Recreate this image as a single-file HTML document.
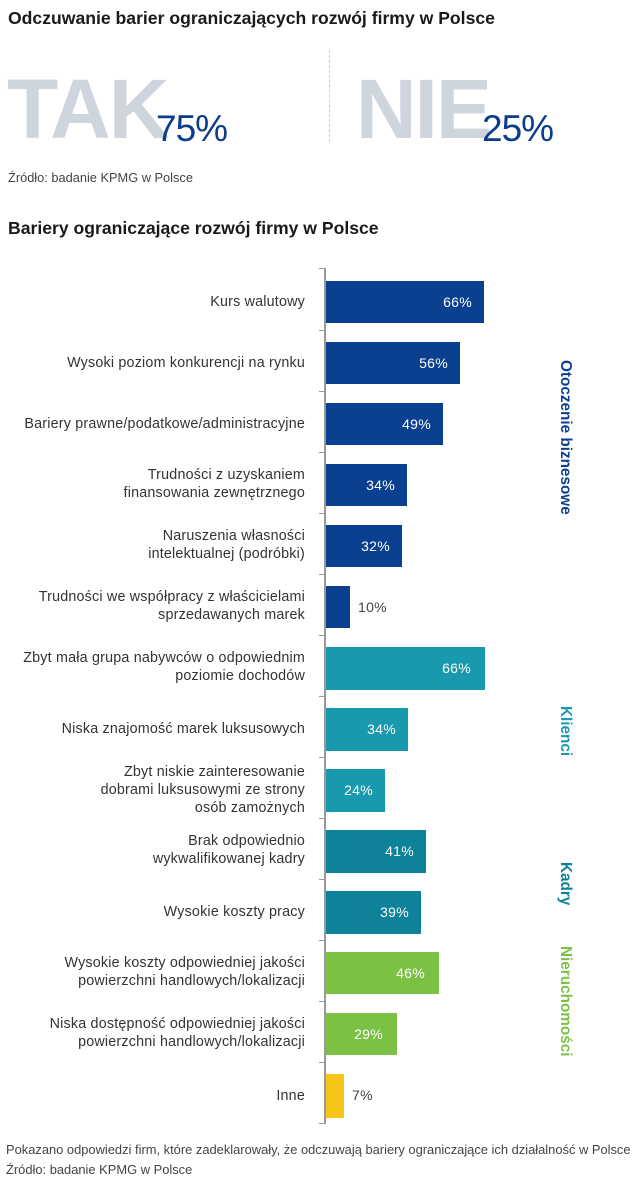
<!DOCTYPE html>
<html><head><meta charset="utf-8"><style>
body{margin:0;width:640px;height:1187px;background:#fff;font-family:"Liberation Sans",sans-serif;position:relative;overflow:hidden;color:#333}
.a{position:absolute;white-space:nowrap}
.h{font-weight:bold;font-size:17.6px;color:#1a1a1a}
.big{font-weight:bold;font-size:84px;color:#cfd5dc;letter-spacing:-2px;line-height:1}
.pct{font-size:37px;color:#0b3c8e;line-height:1;letter-spacing:-1px}
.lbl{position:absolute;right:335px;text-align:right;font-size:14.3px;line-height:18px;color:#333;letter-spacing:0.2px}
.bar{position:absolute;left:326px;height:42px}
.v{position:absolute;font-size:14px;color:#fff;line-height:42px;letter-spacing:0.3px}
.g{position:absolute;font-weight:bold;font-size:15.3px;writing-mode:vertical-rl;white-space:nowrap}
</style></head><body>
<div class="a h" style="left:8px;top:8px">Odczuwanie barier ograniczających rozwój firmy w Polsce</div>
<div class="a big" style="left:7px;top:67px">TAK</div>
<div class="a pct" style="left:156px;top:110px">75%</div>
<div class="a" style="left:329px;top:50px;height:92px;border-left:1px dashed #b9cde3"></div>
<div class="a big" style="left:356px;top:67px">NIE</div>
<div class="a pct" style="left:482px;top:110px">25%</div>
<div class="a" style="left:8px;top:170px;font-size:12.8px;color:#444">Źródło: badanie KPMG w Polsce</div>
<div class="a h" style="left:8px;top:218px">Bariery ograniczające rozwój firmy w Polsce</div>

<div class="a" style="left:324px;top:268px;width:2px;height:856px;background:#999"></div>
<svg class="a" style="left:319px;top:268px" width="7" height="860"><g stroke="#999" stroke-width="1">
<line x1="0" y1="0.5" x2="6" y2="0.5"/><line x1="0" y1="62.5" x2="6" y2="62.5"/><line x1="0" y1="123.5" x2="6" y2="123.5"/><line x1="0" y1="184.5" x2="6" y2="184.5"/><line x1="0" y1="245.5" x2="6" y2="245.5"/><line x1="0" y1="306.5" x2="6" y2="306.5"/><line x1="0" y1="367.5" x2="6" y2="367.5"/><line x1="0" y1="428.5" x2="6" y2="428.5"/><line x1="0" y1="489.5" x2="6" y2="489.5"/><line x1="0" y1="550.5" x2="6" y2="550.5"/><line x1="0" y1="611.5" x2="6" y2="611.5"/><line x1="0" y1="672.5" x2="6" y2="672.5"/><line x1="0" y1="733.5" x2="6" y2="733.5"/><line x1="0" y1="794.5" x2="6" y2="794.5"/><line x1="0" y1="855.5" x2="6" y2="855.5"/></g></svg>

<div class="lbl" style="top:293px">Kurs walutowy</div>
<div class="bar" style="top:281px;width:158px;background:#0b3f8f"><span class="v" style="right:12px">66%</span></div>

<div class="lbl" style="top:354px">Wysoki poziom konkurencji na rynku</div>
<div class="bar" style="top:342px;width:134px;background:#0b3f8f"><span class="v" style="right:12px">56%</span></div>

<div class="lbl" style="top:415px">Bariery prawne/podatkowe/administracyjne</div>
<div class="bar" style="top:403px;width:117px;background:#0b3f8f"><span class="v" style="right:12px">49%</span></div>

<div class="lbl" style="top:466px">Trudności z uzyskaniem<br>finansowania zewnętrznego</div>
<div class="bar" style="top:464px;width:81px;background:#0b3f8f"><span class="v" style="right:12px">34%</span></div>

<div class="lbl" style="top:527px">Naruszenia własności<br>intelektualnej (podróbki)</div>
<div class="bar" style="top:525px;width:76px;background:#0b3f8f"><span class="v" style="right:12px">32%</span></div>

<div class="lbl" style="top:588px">Trudności we współpracy z właścicielami<br>sprzedawanych marek</div>
<div class="bar" style="top:586px;width:24px;background:#0b3f8f"><span class="v" style="left:32px;color:#444">10%</span></div>

<div class="lbl" style="top:649px">Zbyt mała grupa nabywców o odpowiednim<br>poziomie dochodów</div>
<div class="bar" style="top:647px;width:159px;background:#1899ad;height:43px"><span class="v" style="right:14px">66%</span></div>

<div class="lbl" style="top:720px">Niska znajomość marek luksusowych</div>
<div class="bar" style="top:708px;width:82px;background:#1899ad;height:43px"><span class="v" style="right:12px">34%</span></div>

<div class="lbl" style="top:763px">Zbyt niskie zainteresowanie<br>dobrami luksusowymi ze strony<br>osób zamożnych</div>
<div class="bar" style="top:769px;width:59px;background:#1899ad;height:43px"><span class="v" style="right:12px">24%</span></div>

<div class="lbl" style="top:832px">Brak odpowiednio<br>wykwalifikowanej kadry</div>
<div class="bar" style="top:830px;width:100px;background:#0d8299;height:43px"><span class="v" style="right:12px">41%</span></div>

<div class="lbl" style="top:903px">Wysokie koszty pracy</div>
<div class="bar" style="top:891px;width:95px;background:#0d8299;height:43px"><span class="v" style="right:12px">39%</span></div>

<div class="lbl" style="top:954px">Wysokie koszty odpowiedniej jakości<br>powierzchni handlowych/lokalizacji</div>
<div class="bar" style="top:952px;width:113px;background:#7bc144"><span class="v" style="right:14px">46%</span></div>

<div class="lbl" style="top:1015px">Niska dostępność odpowiedniej jakości<br>powierzchni handlowych/lokalizacji</div>
<div class="bar" style="top:1013px;width:71px;background:#7bc144"><span class="v" style="right:14px">29%</span></div>

<div class="lbl" style="top:1087px">Inne</div>
<div class="bar" style="top:1074px;width:18px;background:#f7c41a;height:44px"><span class="v" style="left:26px;color:#444">7%</span></div>

<div class="g" style="left:556px;top:360px;color:#0b3f8f">Otoczenie biznesowe</div>
<div class="g" style="left:556px;top:706px;color:#1899ad">Klienci</div>
<div class="g" style="left:556px;top:862px;color:#0d8299">Kadry</div>
<div class="g" style="left:556px;top:946px;color:#7bc144">Nieruchomości</div>

<div class="a" style="left:6px;top:1142px;font-size:12.9px;color:#444">Pokazano odpowiedzi firm, które zadeklarowały, że odczuwają bariery ograniczające ich działalność w Polsce</div>
<div class="a" style="left:6px;top:1162px;font-size:12.9px;color:#444">Źródło: badanie KPMG w Polsce</div>
</body></html>
